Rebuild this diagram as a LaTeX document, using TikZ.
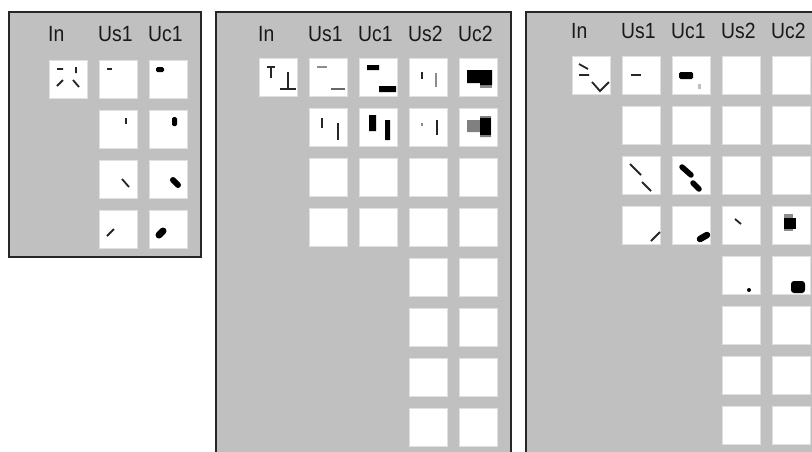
\documentclass[tikz,border=0pt]{standalone}
\usepackage{fontspec}
\setmainfont{Liberation Sans}
\newfontfamily\labfont[FakeStretch=0.88]{Liberation Sans}
\usepackage{tikz}
\usetikzlibrary{positioning}
\definecolor{panelgray}{HTML}{C0C0C0}
\tikzset{panel/.style={draw=black!85,line width=1.6pt,fill=panelgray},
  cell/.style={draw=black!12,line width=0.8pt,fill=white,minimum size=38pt,inner sep=0pt,anchor=north west},
  lab/.style={anchor=base west,inner sep=0pt,text=black!90,font=\labfont\fontsize{22}{26}\selectfont},
  ink/.style={line width=1.8pt,black!85},
  faint/.style={line width=1.5pt,black!45},
  fat/.style={line width=5.5pt,line cap=round,black}}

\begin{document}
\begin{tikzpicture}[x=1pt,y=-1pt]
\useasboundingbox (0,0) rectangle (812,451);
\clip (0,0) rectangle (812,451);
\fill[white] (0,0) rectangle (812,451);
% panel 1
\draw[panel] (9,12) rectangle (201,257);
\foreach \t/\x in {In/48,Us1/98,Uc1/148} \node[lab] (pa-lab-\t) at (\x,41.5) {\t};
\node[cell] (pa-in) at (49,60) {};
\foreach \r in {1,...,4}{
  \node[cell] (pa-s1-\r) at (99,{10+50*\r}) {};
  \node[cell] (pa-c1-\r) at (149,{10+50*\r}) {};
}
\begin{scope}[shift={(pa-in.north west)}]
  \draw[ink] (8,9)--(14,9) (27,7)--(27,13) (8,26)--(14,20) (24,20)--(30,27);
\end{scope}
\begin{scope}[shift={(pa-s1-1.north west)}] \draw[ink] (8,9)--(13,9); \end{scope}
\begin{scope}[shift={(pa-c1-1.north west)}] \fill[rounded corners=1.5pt] (7,7) rectangle (15,12); \end{scope}
\begin{scope}[shift={(pa-s1-2.north west)}] \draw[ink] (27,8)--(27,14); \end{scope}
\begin{scope}[shift={(pa-c1-2.north west)}] \fill[rounded corners=1.5pt] (23,7) rectangle (28,16); \end{scope}
\begin{scope}[shift={(pa-s1-3.north west)}] \draw[ink] (23,19)--(30,27); \end{scope}
\begin{scope}[shift={(pa-c1-3.north west)}] \draw[fat,line width=6pt] (24,20)--(29,25); \end{scope}
\begin{scope}[shift={(pa-s1-4.north west)}] \draw[ink] (8,26)--(15,19); \end{scope}
\begin{scope}[shift={(pa-c1-4.north west)}] \draw[fat,line width=7pt] (10,25)--(14,21); \end{scope}

% panel 2
\draw[panel] (216,12) rectangle (511,480);
\foreach \t/\x in {In/258,Us1/308,Uc1/358,Us2/408,Uc2/458} \node[lab] (pb-lab-\t) at (\x,41) {\t};
\node[cell] (pb-in) at (259,58) {};
\foreach \r in {1,...,4}{
  \node[cell] (pb-s1-\r) at (309,{8+50*\r}) {};
  \node[cell] (pb-c1-\r) at (359,{8+50*\r}) {};
}
\foreach \r in {1,...,8}{
  \node[cell] (pb-s2-\r) at (409,{8+50*\r}) {};
  \node[cell] (pb-c2-\r) at (459,{8+50*\r}) {};
}
\begin{scope}[shift={(pb-in.north west)}]
  \draw[ink] (8,9)--(16,9) (12,9)--(12,20) (21,31)--(37,31) (29,14)--(29,31);
\end{scope}
\begin{scope}[shift={(pb-s1-1.north west)}] \draw[faint] (8,9)--(18,9); \draw[ink,black!60] (22,31)--(36,31); \end{scope}
\begin{scope}[shift={(pb-c1-1.north west)}] \fill (8,7) rectangle (20,12) (20,28) rectangle (37,34); \end{scope}
\begin{scope}[shift={(pb-s2-1.north west)}] \draw[ink] (13,14)--(13,21); \draw[faint] (27,15)--(27,29); \end{scope}
\begin{scope}[shift={(pb-c2-1.north west)}]
  \fill[black!45] (21,12) rectangle (33,30);
  \fill (8,12) rectangle (33,25) (21,25) rectangle (33,27);
\end{scope}
\begin{scope}[shift={(pb-s1-2.north west)}] \draw[ink] (13,10)--(13,20) (29,15)--(29,32); \end{scope}
\begin{scope}[shift={(pb-c1-2.north west)}] \fill (10,7) rectangle (17,23) (26,12) rectangle (31,32); \end{scope}
\begin{scope}[shift={(pb-s2-2.north west)}] \fill[black!45] (12.3,15) rectangle (14,18); \draw[ink] (28,12)--(28,27); \end{scope}
\begin{scope}[shift={(pb-c2-2.north west)}]
  \fill[black!50] (8,12) rectangle (22,24) (21,8) rectangle (32,29);
  \fill (21,10) rectangle (32,27);
\end{scope}

% panel 3
\draw[panel] (526,12) rectangle (840,480);
\foreach \t/\x in {In/571,Us1/621,Uc1/671,Us2/721,Uc2/771} \node[lab] (pc-lab-\t) at (\x,38.5) {\t};
\node[cell] (pc-in) at (572,56) {};
\foreach \r in {1,...,4}{
  \node[cell] (pc-s1-\r) at (622,{6+50*\r}) {};
  \node[cell] (pc-c1-\r) at (672,{6+50*\r}) {};
}
\foreach \r in {1,...,8}{
  \node[cell] (pc-s2-\r) at (722,{6+50*\r}) {};
  \node[cell] (pc-c2-\r) at (772,{6+50*\r}) {};
}
\begin{scope}[shift={(pc-in.north west)}]
  \draw[ink] (7,8)--(16,13) (7,19)--(17,19) (20,26)--(28,35)--(37,26);
\end{scope}
\begin{scope}[shift={(pc-s1-1.north west)}] \draw[ink] (9,19)--(19,19); \end{scope}
\begin{scope}[shift={(pc-c1-1.north west)}] \fill[rounded corners=1.5pt] (7,16) rectangle (21,23); \fill[black!25] (26,28) rectangle (29,33); \end{scope}
\begin{scope}[shift={(pc-s1-3.north west)}] \draw[ink] (8,8)--(19,19) (20,26)--(29,35); \end{scope}
\begin{scope}[shift={(pc-c1-3.north west)}] \draw[fat] (10,11)--(19,19) (21,27)--(27,33); \end{scope}
\begin{scope}[shift={(pc-s1-4.north west)}] \draw[ink] (29,35)--(38,26); \end{scope}
\begin{scope}[shift={(pc-c1-4.north west)}] \draw[fat,line width=6.5pt] (28,33)--(35,29); \end{scope}
\begin{scope}[shift={(pc-s2-4.north west)}] \draw[ink] (13,13)--(19,18); \end{scope}
\begin{scope}[shift={(pc-c2-4.north west)}] \fill[black!45] (12,8) rectangle (21,25); \fill (12,12) rectangle (24,23); \end{scope}
\begin{scope}[shift={(pc-s2-5.north west)}] \fill (27,34) circle (2); \end{scope}
\begin{scope}[shift={(pc-c2-5.north west)}] \fill[rounded corners=3pt] (19,25) rectangle (33,37); \end{scope}
\end{tikzpicture}
\end{document}
